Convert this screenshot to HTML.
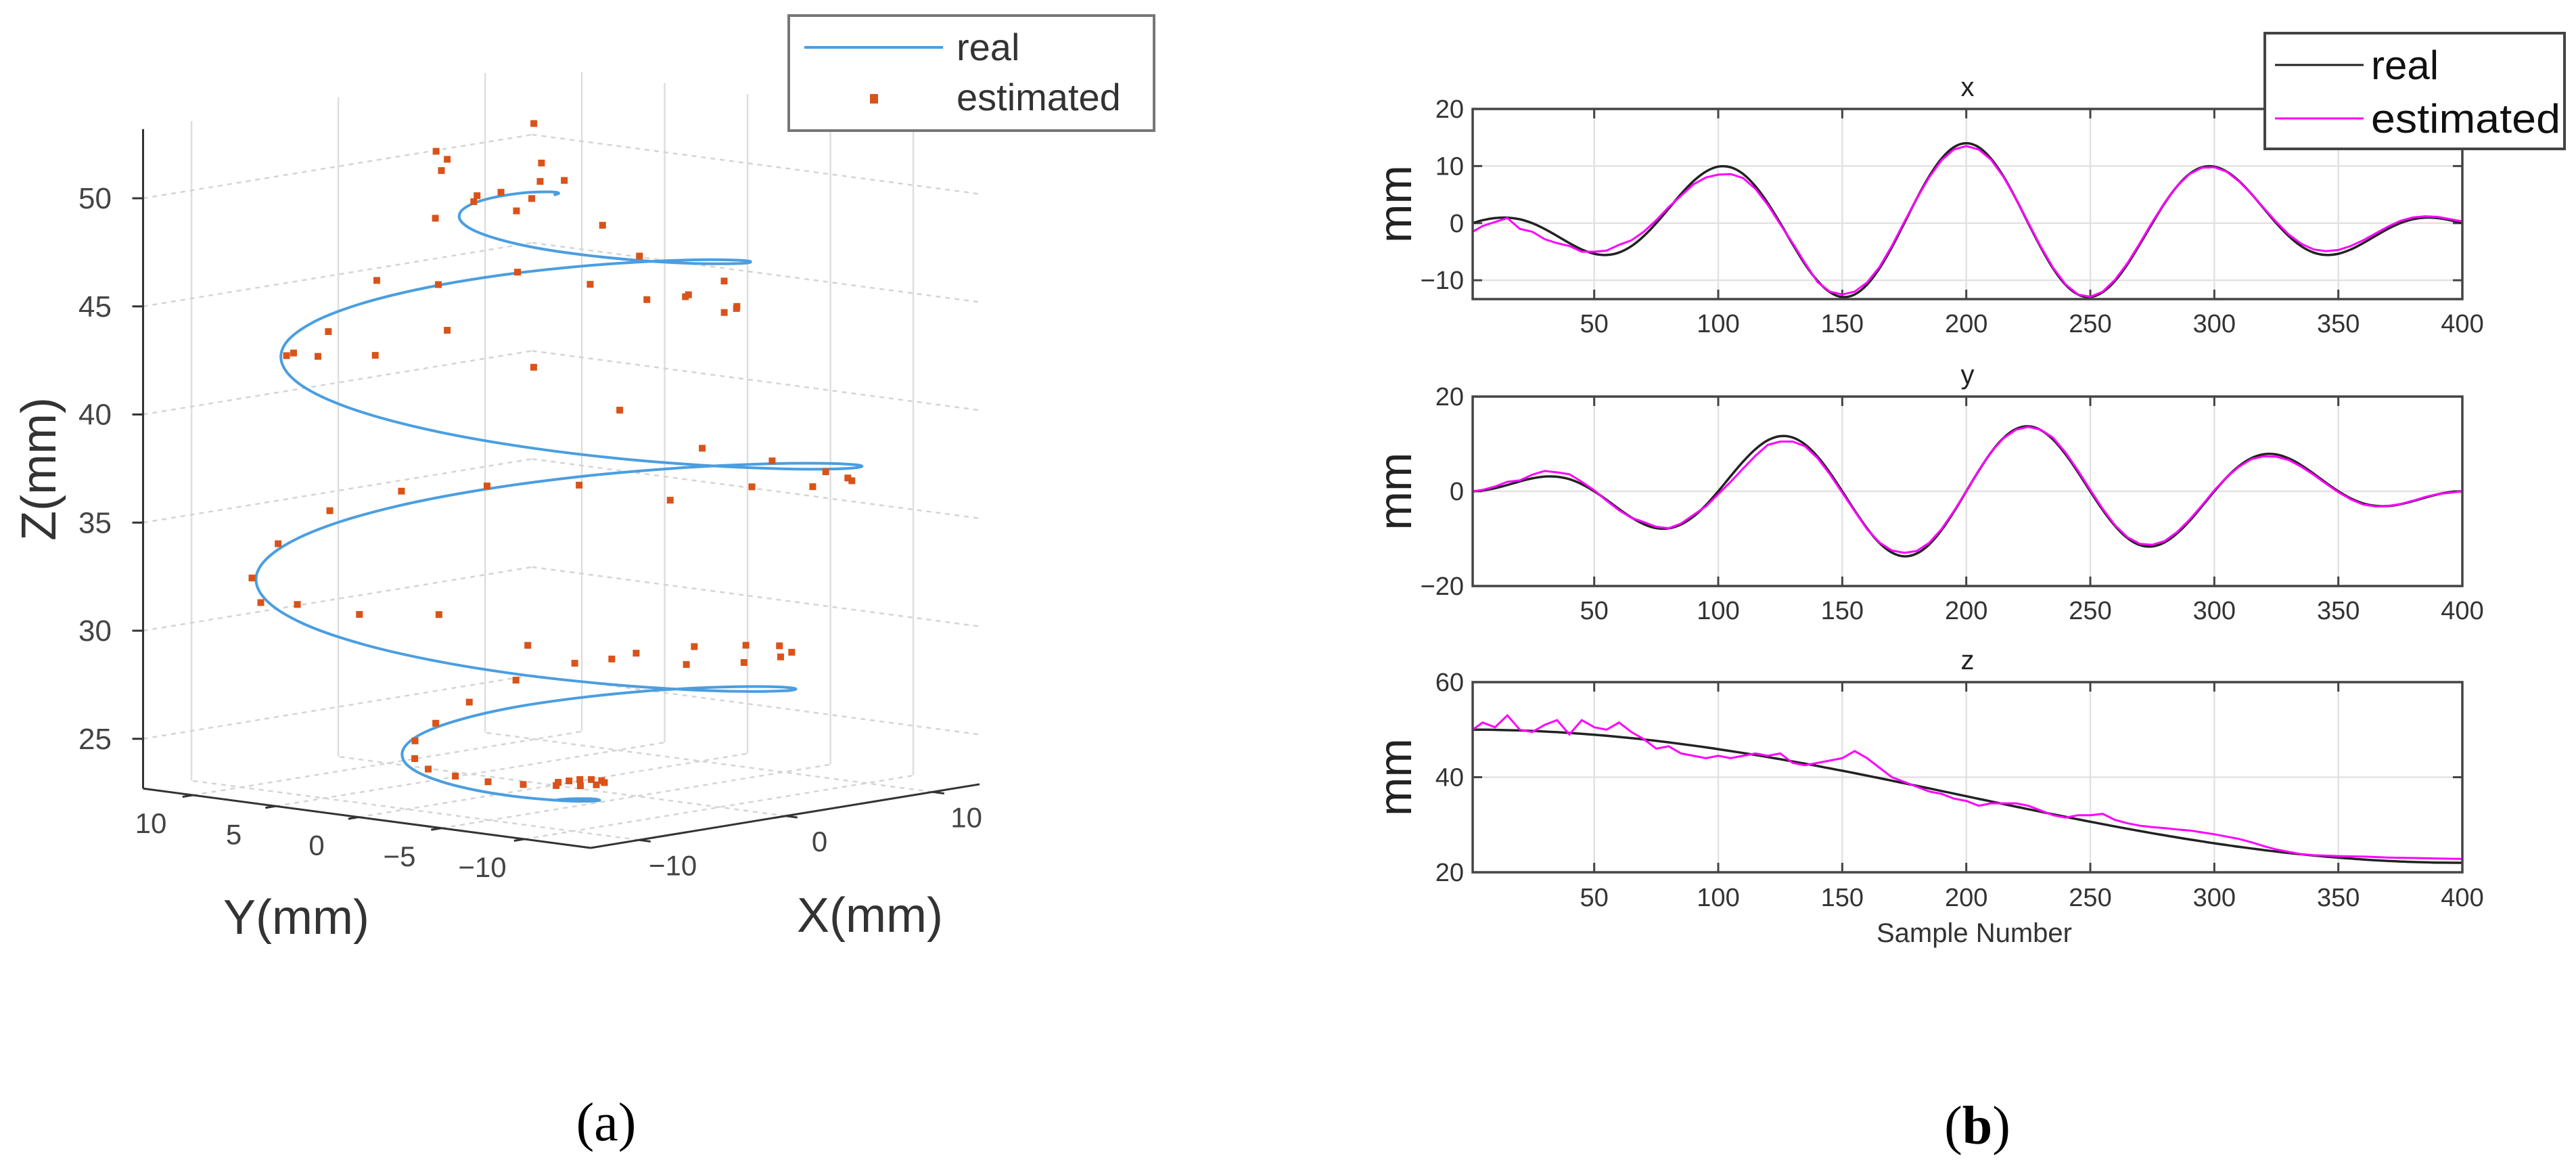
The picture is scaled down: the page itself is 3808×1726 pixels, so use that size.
<!DOCTYPE html>
<html><head><meta charset="utf-8"><title>Helix trajectory: real vs estimated</title>
<style>
html,body{margin:0;padding:0;background:#fff;}
svg{display:block;font-family:"Liberation Sans",Arial,sans-serif;}
</style></head>
<body>
<svg id="fig" width="3808" height="1726" viewBox="0 0 3808 1726" xmlns="http://www.w3.org/2000/svg">
  <rect x="0" y="0" width="3808" height="1726" fill="#fff"/>
  <g id="panelA"></g>
  <g id="panelB"></g>
  <text x="896" y="1685" font-family="'Liberation Serif',serif" font-size="80" text-anchor="middle">(a)</text>
  <text x="2923" y="1690" font-family="'Liberation Serif',serif" font-size="80" text-anchor="middle">(<tspan font-weight="bold">b</tspan>)</text>
</svg>
<script>
const samples = Array.from({length:81},(_,i)=>Math.max(1,i*5));
const realX = [0,0.52,0.89,0.97,0.68,0,-1.01,-2.23,-3.50,-4.61,
 -5.36,-5.57,-5.15,-4.02,-2.26,0,2.54,5.10,7.35,9.03,
 9.90,9.78,8.62,6.46,3.50,0,-3.69,-7.19,-10.09,-12.09,
 -12.93,-12.49,-10.77,-7.93,-4.21,0,4.27,8.17,11.29,13.30,
 14,13.30,11.29,8.17,4.27,0,-4.21,-7.93,-10.77,-12.49,
 -12.93,-12.09,-10.09,-7.19,-3.69,0,3.50,6.46,8.62,9.78,
 9.90,9.03,7.35,5.10,2.54,0,-2.26,-4.02,-5.15,-5.57,
 -5.36,-4.61,-3.50,-2.23,-1.01,0,0.68,0.97,0.89,0.52,0];
const realY = [0,0.17,0.65,1.33,2.08,2.73,3.11,3.07,2.55,1.50,
 0,-1.81,-3.74,-5.53,-6.95,-7.78,-7.83,-7.01,-5.34,-2.94,
 0,3.18,6.26,8.89,10.77,11.64,11.36,9.89,7.33,3.93,
 0,-4.06,-7.83,-10.91,-12.94,-13.73,-13.15,-11.25,-8.21,-4.32,
 0,4.32,8.21,11.25,13.15,13.73,12.94,10.91,7.83,4.06,
 0,-3.93,-7.33,-9.89,-11.36,-11.64,-10.77,-8.89,-6.26,-3.18,
 0,2.94,5.34,7.01,7.83,7.78,6.95,5.53,3.74,1.81,
 0,-1.50,-2.55,-3.07,-3.11,-2.73,-2.08,-1.33,-0.65,-0.17,0];
const realZ = [50,49.99,49.96,49.90,49.83,49.73,49.61,49.48,49.31,49.13,
 48.93,48.71,48.47,48.22,47.94,47.64,47.33,46.99,46.65,46.28,
 45.90,45.50,45.09,44.67,44.23,43.78,43.32,42.84,42.36,41.86,
 41.36,40.85,40.33,39.80,39.27,38.73,38.19,37.65,37.10,36.55,
 36,35.45,34.90,34.35,33.81,33.27,32.73,32.20,31.67,31.15,
 30.64,30.14,29.64,29.16,28.68,28.22,27.77,27.33,26.91,26.50,
 26.10,25.72,25.35,25.01,24.67,24.36,24.06,23.78,23.53,23.29,
 23.07,22.87,22.69,22.52,22.39,22.27,22.17,22.10,22.04,22.01,22];
const estX = [-1.5,-0.5,0.2,0.9,-1.0,-1.5,-2.8,-3.5,-4.0,-5.0,
 -5.0,-4.8,-3.8,-3.0,-1.5,0.5,2.8,4.8,6.8,8.0,
 8.5,8.6,7.9,6.0,3.2,-0.2,-3.5,-7.0,-10.3,-12.0,
 -12.5,-12.0,-10.4,-7.7,-4.0,0.2,4.3,8.0,11.0,12.9,
 13.5,12.9,11.1,8.1,4.3,0.1,-4.1,-7.8,-10.7,-12.5,
 -12.9,-12.0,-9.9,-7.0,-3.5,0.2,3.6,6.5,8.6,9.7,
 9.8,9.0,7.3,5.1,2.6,0.2,-2.0,-3.6,-4.6,-4.9,
 -4.7,-4.0,-3.0,-1.8,-0.6,0.4,1.0,1.2,1.1,0.7,0.3];
const estY = [0,0.3,1.0,2.0,2.3,3.5,4.3,4.0,3.6,2.0,
 0.2,-2.0,-4.0,-5.6,-6.5,-7.5,-7.8,-6.8,-5.0,-3.2,
 -0.6,2.0,4.8,7.5,9.8,10.5,10.5,9.5,7.0,3.6,
 -0.3,-4.2,-8.0,-10.8,-12.5,-13.0,-12.6,-10.9,-8.0,-4.2,
 0,4.4,8.3,11.2,13.0,13.6,13.0,11.3,8.2,4.4,
 0.3,-3.7,-7.2,-9.7,-11.1,-11.3,-10.5,-8.6,-6.0,-3.0,
 0.2,3.0,5.2,6.8,7.4,7.3,6.6,5.2,3.5,1.6,
 -0.2,-1.7,-2.8,-3.2,-3.1,-2.7,-2.0,-1.2,-0.6,-0.3,0];
const estZ = [50,51.5,50.5,53,50,49.5,51,52,49,52,
 50.5,50,51.5,49.5,48,46,46.5,45,44.5,44,
 44.5,44,44.5,45,44.5,45,43,42.5,43,43.5,
 44,45.5,44,42,40,39,38,37,36.5,35.5,
 35,34,34.5,34.5,34.5,34,33,32,31.5,32,
 32,32.3,31,30.3,29.8,29.5,29.3,29,28.8,28.4,
 28,27.5,27,26.3,25.5,24.8,24.3,23.8,23.6,23.5,
 23.4,23.35,23.3,23.2,23.1,23.05,23,22.95,22.9,22.85,22.8];
const zTicks3d = [25,30,35,40,45,50];
const xTicks3d = [-10,0,10];
const yTicks3d = [10,5,0,-5,-10];
const tTicks = [50,100,150,200,250,300,350,400];
const xPanelTicks = [20,10,0,-10];
const yPanelTicks = [20,0,-20];
const zPanelTicks = [60,40,20];

const NS = "http://www.w3.org/2000/svg";
function mk(tag, attrs, parent){const e=document.createElementNS(NS,tag);for(const k in attrs)e.setAttribute(k,attrs[k]);parent.appendChild(e);return e;}
function smoothPath(pts){
  let d="M"+pts[0][0].toFixed(1)+","+pts[0][1].toFixed(1);
  for(let i=0;i<pts.length-1;i++){
    const p0=pts[Math.max(0,i-1)],p1=pts[i],p2=pts[i+1],p3=pts[Math.min(pts.length-1,i+2)];
    const c1=[p1[0]+(p2[0]-p0[0])/6,p1[1]+(p2[1]-p0[1])/6];
    const c2=[p2[0]-(p3[0]-p1[0])/6,p2[1]-(p3[1]-p1[1])/6];
    d+=" C"+c1[0].toFixed(1)+","+c1[1].toFixed(1)+" "+c2[0].toFixed(1)+","+c2[1].toFixed(1)+" "+p2[0].toFixed(1)+","+p2[1].toFixed(1);
  }
  return d;
}

/* ---------- Panel A: 3D ---------- */
const A = document.getElementById('panelA');
const Xmin=-13.3,Xmax=13.2,Ymin=-14.0,Ymax=13.0,Zmin=22.7,Zmax=53.2;
function P(X,Y,Z){return [873+(X-Xmin)*21.7-(Y-Ymin)*24.5, 1253-(X-Xmin)*3.55-(Y-Ymin)*3.25-(Z-Zmin)*31.95];}
function line3(a,b,attrs,name){const p=P(...a),q=P(...b);const l=mk('line',Object.assign({x1:p[0],y1:p[1],x2:q[0],y2:q[1]},attrs),A);
  
  return l;}
const gridSolid={stroke:'#dedede','stroke-width':2.5};
const gridDash={stroke:'#d4d4d4','stroke-width':2.5,'stroke-dasharray':'7,7'};
xTicks3d.forEach(x=>{line3([x,Ymax,Zmin],[x,Ymax,Zmax],gridSolid,'grid-wall-x');line3([x,Ymin,Zmin],[x,Ymax,Zmin],gridDash,'grid-floor-x');});
yTicks3d.forEach(y=>{line3([Xmax,y,Zmin],[Xmax,y,Zmax],gridSolid,'grid-wall-y');line3([Xmin,y,Zmin],[Xmax,y,Zmin],gridDash,'grid-floor-y');});
zTicks3d.forEach(z=>{line3([Xmin,Ymax,z],[Xmax,Ymax,z],gridDash,'grid-z-back');line3([Xmax,Ymax,z],[Xmax,Ymin,z],gridDash,'grid-z-right');});
const axisStyle={stroke:'#333','stroke-width':3};
line3([Xmin,Ymax,Zmin],[Xmin,Ymax,Zmax],axisStyle,'z-axis');
line3([Xmin,Ymax,Zmin],[Xmin,Ymin,Zmin],axisStyle,'y-axis');
line3([Xmin,Ymin,Zmin],[Xmax,Ymin,Zmin],axisStyle,'x-axis');
zTicks3d.forEach(z=>{
  const p=P(Xmin,Ymax,z);
  const t=mk('line',{x1:p[0]-16,y1:p[1],x2:p[0],y2:p[1],stroke:'#333','stroke-width':3},A);
  
  
  const l=mk('text',{x:165,y:p[1]+15,'font-size':44,'text-anchor':'end',fill:'#444'},A);l.textContent=z;
  
  
});
yTicks3d.forEach(y=>{
  const p=P(Xmin,y,Zmin),q=P(Xmin-0.7,y,Zmin);
  const t=mk('line',{x1:p[0],y1:p[1],x2:q[0],y2:q[1],stroke:'#333','stroke-width':3},A);
  
  
  const l=mk('text',{x:p[0]-62,y:p[1]+56,'font-size':42,'text-anchor':'middle',fill:'#444'},A);l.textContent=(y<0?'\u2212':'')+Math.abs(y);
  
  
});
xTicks3d.forEach(x=>{
  const p=P(x,Ymin,Zmin),q=P(x,Ymin-0.7,Zmin);
  const t=mk('line',{x1:p[0],y1:p[1],x2:q[0],y2:q[1],stroke:'#333','stroke-width':3},A);
  
  
  const l=mk('text',{x:p[0]+50,y:p[1]+52,'font-size':42,'text-anchor':'middle',fill:'#444'},A);l.textContent=(x<0?'\u2212':'')+Math.abs(x);
  
  
});
(function(){
  let t=mk('text',{x:438,y:1380,'font-size':72,'text-anchor':'middle',fill:'#333'},A);t.textContent='Y(mm)';
  
  
  t=mk('text',{x:1286,y:1377,'font-size':72,'text-anchor':'middle',fill:'#333'},A);t.textContent='X(mm)';
  
  
  t=mk('text',{x:0,y:0,'font-size':72,'text-anchor':'middle',fill:'#333',transform:'translate(82,693) rotate(-90)'},A);t.textContent='Z(mm)';
  
  
})();
(function(){
  const pts=realX.map((x,i)=>P(x,realY[i],realZ[i]));
  const h=mk('path',{d:smoothPath(pts),fill:'none',stroke:'#4a9ee0','stroke-width':4},A);
  
  
  estX.forEach((x,i)=>{
    const p=P(x,estY[i],estZ[i]);
    const r=mk('rect',{x:p[0]-5,y:p[1]-5,width:10,height:10,fill:'#d95319'},A);
    
    
  });
})();
(function(){
  const g=mk('g',{},A);
  
  
  mk('rect',{x:1166,y:23,width:540,height:170,fill:'#fff',stroke:'#777','stroke-width':4},g);
  mk('line',{x1:1189,y1:70,x2:1394,y2:70,stroke:'#4a9ee0','stroke-width':4},g);
  mk('rect',{x:1286,y:139,width:12,height:14,fill:'#d95319'},g);
  let t=mk('text',{x:1414,y:89,'font-size':56,fill:'#333'},g);t.textContent='real';
  
  
  t=mk('text',{x:1414,y:163,'font-size':56,fill:'#333'},g);t.textContent='estimated';
  
  
})();

/* ---------- Panel B: time series ---------- */
const B=document.getElementById('panelB');
const L=2177,R=3640;
function xs(t){return L+(t-1)/399*(R-L);}
const panels=[
 {name:'x',top:161,bot:442,ymin:-13.3,ymax:20,ticks:xPanelTicks,real:realX,est:estX,title:130,lab:478},
 {name:'y',top:586,bot:866,ymin:-20,ymax:20,ticks:yPanelTicks,real:realY,est:estY,title:555,lab:902},
 {name:'z',top:1008,bot:1289,ymin:20,ymax:60,ticks:zPanelTicks,real:realZ,est:estZ,title:977,lab:1326}
];
panels.forEach(pn=>{
  const g=mk('g',{},B);
  
  
  const ys=v=>pn.bot-(v-pn.ymin)/(pn.ymax-pn.ymin)*(pn.bot-pn.top);
  tTicks.forEach(t=>{
    const gl=mk('line',{x1:xs(t),y1:pn.top,x2:xs(t),y2:pn.bot,stroke:'#e2e2e2','stroke-width':2.5},g);
    
    
  });
  pn.ticks.forEach(v=>{
    const y=ys(v);
    const gl=mk('line',{x1:L,y1:y,x2:R,y2:y,stroke:'#e2e2e2','stroke-width':2.5},g);
    
    
    mk('line',{x1:L,y1:y,x2:L+14,y2:y,stroke:'#444','stroke-width':3},g);
    mk('line',{x1:R-14,y1:y,x2:R,y2:y,stroke:'#444','stroke-width':3},g);
    const tl=mk('text',{x:2164,y:y+13,'font-size':38,'text-anchor':'end',fill:'#333'},g);tl.textContent=(v<0?'\u2212':'')+Math.abs(v);
    
    
  });
  tTicks.forEach(t=>{
    mk('line',{x1:xs(t),y1:pn.top,x2:xs(t),y2:pn.top+14,stroke:'#444','stroke-width':3},g);
    mk('line',{x1:xs(t),y1:pn.bot-14,x2:xs(t),y2:pn.bot,stroke:'#444','stroke-width':3},g);
    const tl=mk('text',{x:xs(t),y:pn.lab+13,'font-size':38,'text-anchor':'middle',fill:'#333'},g);tl.textContent=t;
    
    
  });
  const clipId='clip'+pn.name;
  const cp=mk('clipPath',{id:clipId},g);mk('rect',{x:L,y:pn.top,width:R-L,height:pn.bot-pn.top},cp);
  const rp=samples.map((t,i)=>[xs(t),ys(pn.real[i])]);
  const rl=mk('path',{d:smoothPath(rp),fill:'none',stroke:'#222','stroke-width':3.5,'clip-path':'url(#'+clipId+')'},g);
  
  
  const ep=samples.map((t,i)=>xs(t).toFixed(1)+','+ys(pn.est[i]).toFixed(1)).join(' ');
  const el=mk('polyline',{points:ep,fill:'none',stroke:'#ff00ff','stroke-width':3,'clip-path':'url(#'+clipId+')'},g);
  
  
  const fr=mk('rect',{x:L,y:pn.top,width:R-L,height:pn.bot-pn.top,fill:'none',stroke:'#444','stroke-width':3.5},g);
  
  
  const tt=mk('text',{x:(L+R)/2,y:pn.title+12,'font-size':40,'text-anchor':'middle',fill:'#222'},g);tt.textContent=pn.name;
  
  
  const yl=mk('text',{x:0,y:0,'font-size':69,'text-anchor':'middle',fill:'#222',transform:'translate(2086,'+((pn.top+pn.bot)/2)+') rotate(-90)'},g);yl.textContent='mm';
  
  
});
(function(){
  const t=mk('text',{x:(L+R)/2+10,y:1392,'font-size':40,'text-anchor':'middle',fill:'#333'},B);t.textContent='Sample Number';
  
  
  const g=mk('g',{},B);
  
  
  mk('rect',{x:3348,y:49,width:443,height:171,fill:'#fff',stroke:'#444','stroke-width':4},g);
  mk('line',{x1:3363,y1:96,x2:3494,y2:96,stroke:'#222','stroke-width':3},g);
  mk('line',{x1:3363,y1:175,x2:3494,y2:175,stroke:'#ff00ff','stroke-width':3},g);
  let l=mk('text',{x:3505,y:117,'font-size':60,fill:'#111'},g);l.textContent='real';
  
  
  l=mk('text',{x:3505,y:196,'font-size':60,fill:'#111',textLength:280,lengthAdjust:'spacingAndGlyphs'},g);l.textContent='estimated';
  
  
})();
</script>
</body></html>
